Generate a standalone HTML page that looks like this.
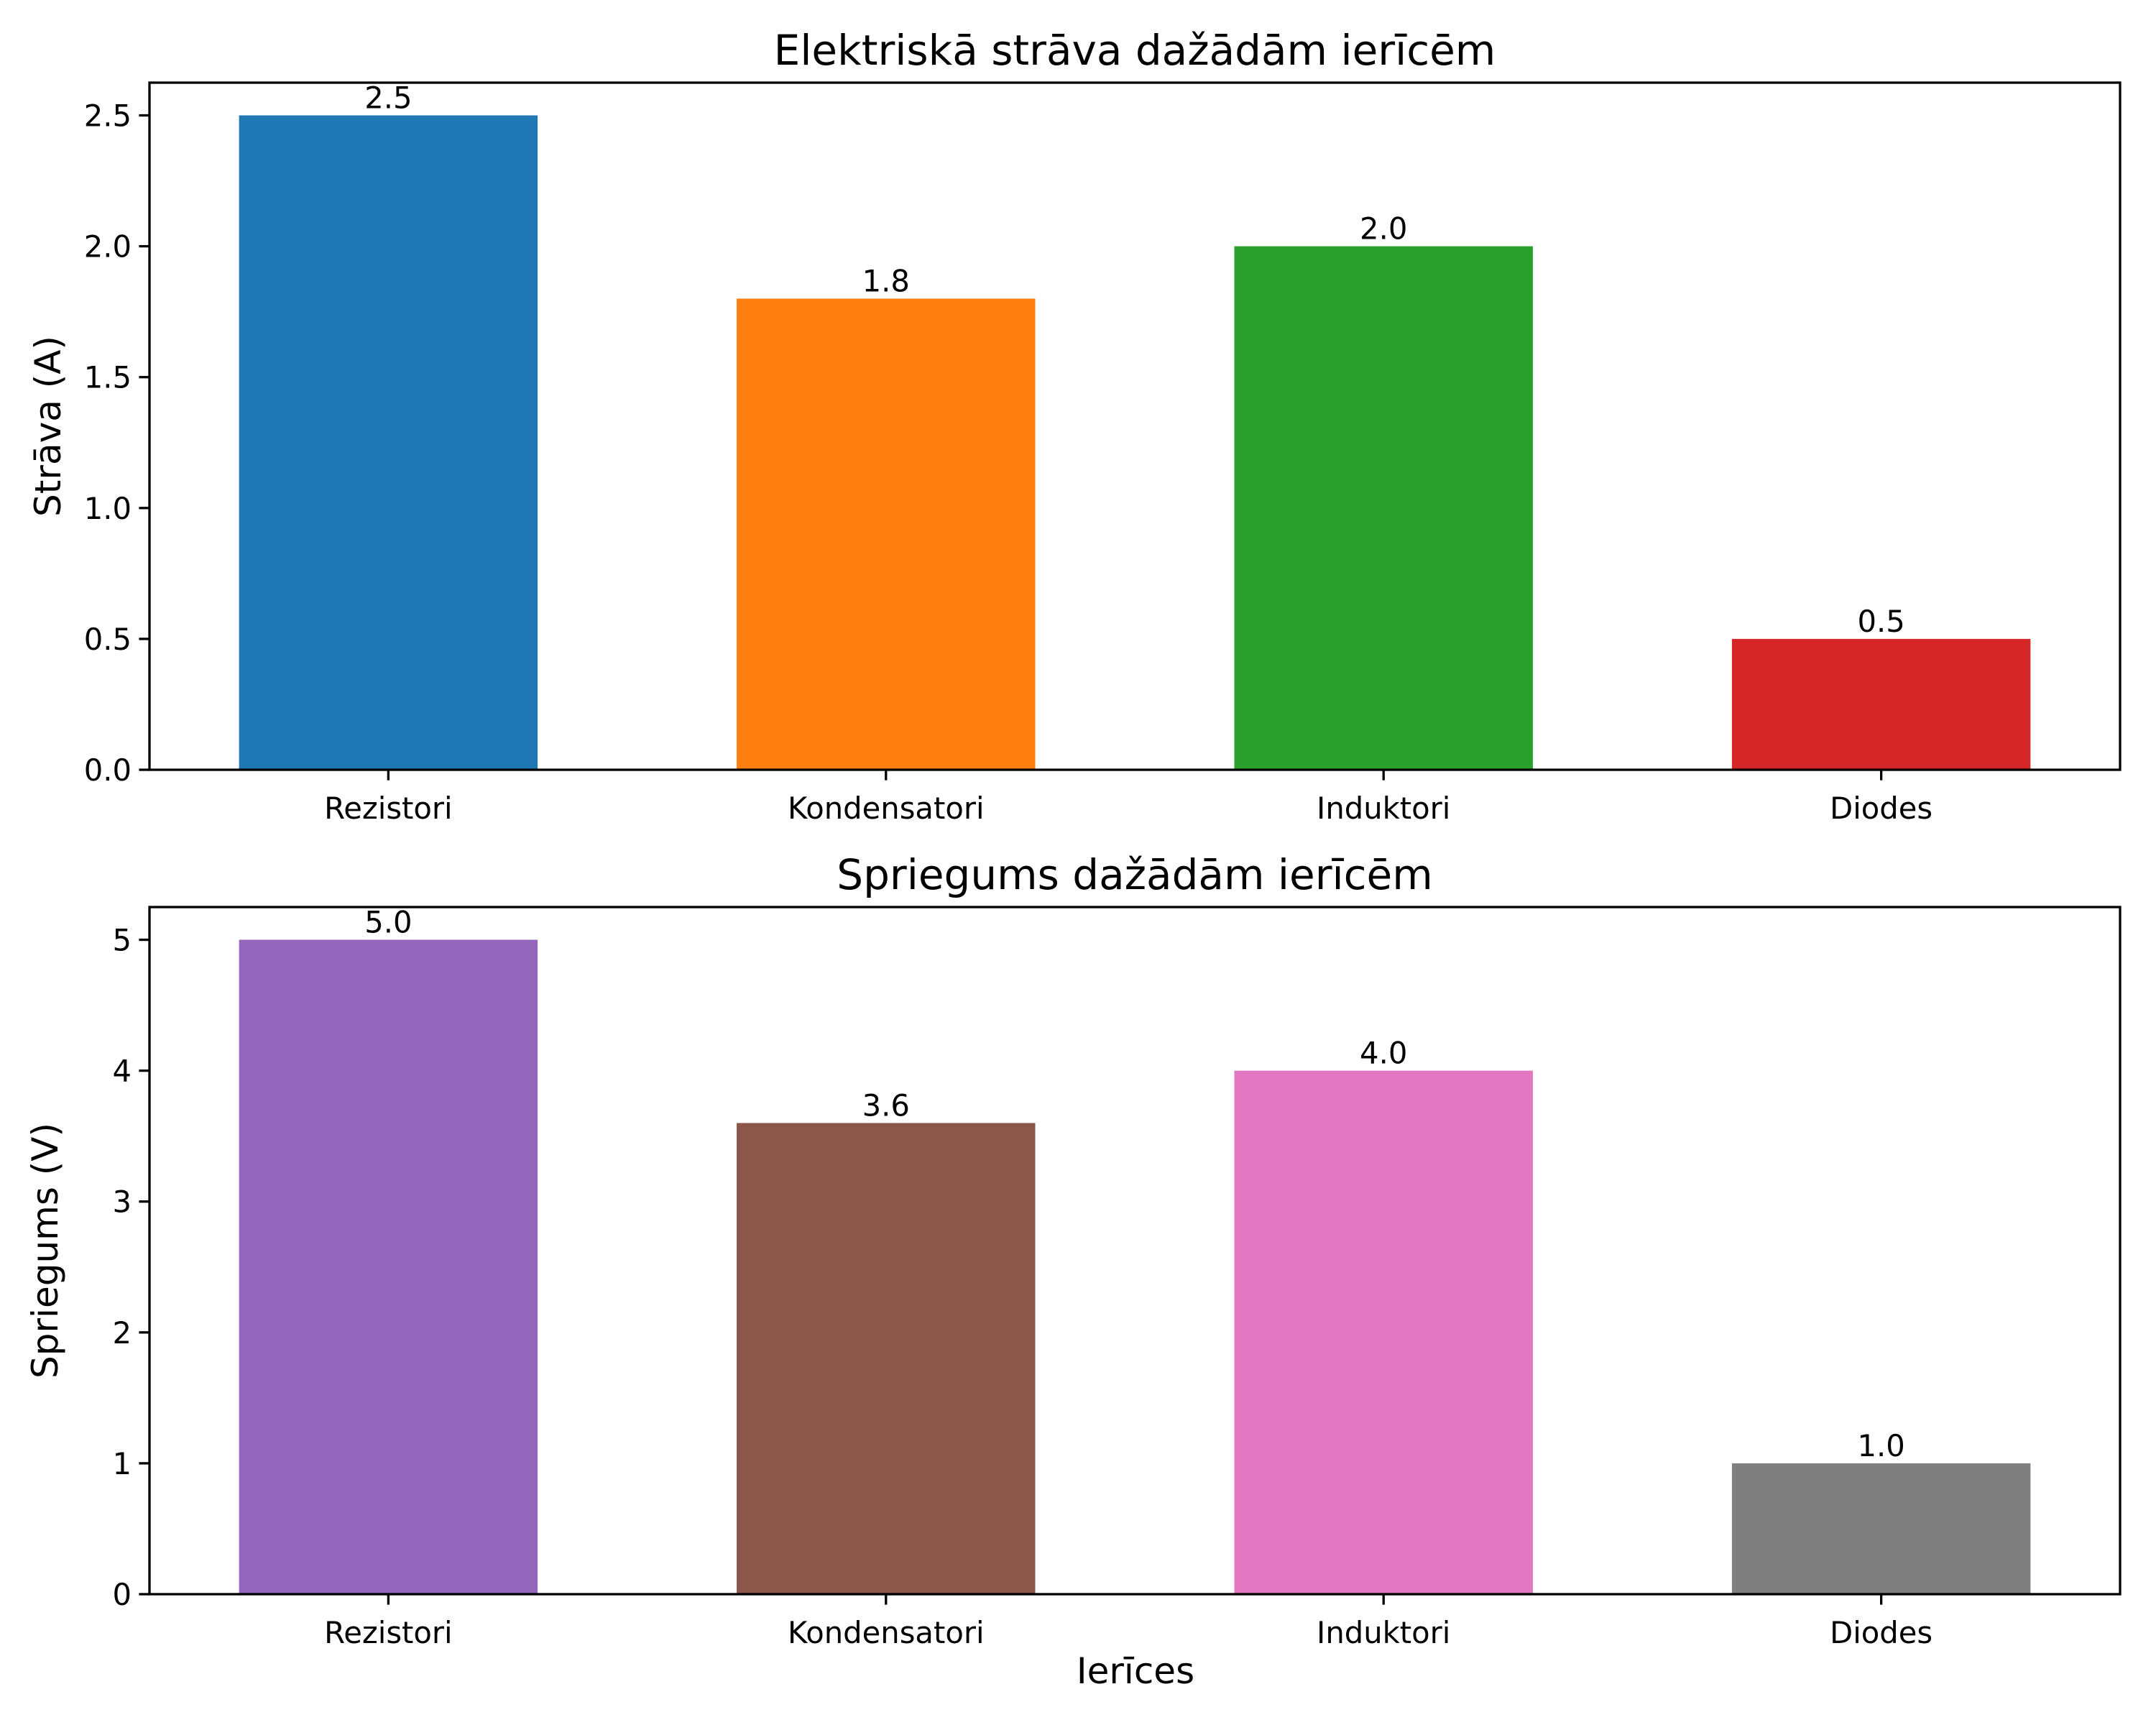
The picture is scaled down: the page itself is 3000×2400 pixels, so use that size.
<!DOCTYPE html>
<html><head><meta charset="utf-8"><style>
html,body{margin:0;padding:0;background:#fff;}
svg{display:block;font-family:"DejaVu Sans","Liberation Sans",sans-serif;}
</style></head><body>
<svg id="fig" width="3000" height="2400" viewBox="0 0 3000 2400" xmlns="http://www.w3.org/2000/svg"></svg>
<script>
const categories = ["Rezistori","Kondensatori","Induktori","Diodes"];
const currentValues = [2.5,1.8,2.0,0.5];
const voltageValues = [5.0,3.6,4.0,1.0];
const currentTicks = [0,0.5,1.0,1.5,2.0,2.5];
const currentTickLabels = ["0.0","0.5","1.0","1.5","2.0","2.5"];
const voltageTicks = [0,1,2,3,4,5];
const voltageTickLabels = ["0","1","2","3","4","5"];
const currentColors = ["#1f77b4","#ff7f0e","#2ca02c","#d62728"];
const voltageColors = ["#9467bd","#8c564b","#e377c2","#7f7f7f"];

const NS="http://www.w3.org/2000/svg";
const svg=document.getElementById('fig');
function el(tag,attrs,parent){const e=document.createElementNS(NS,tag);for(const k in attrs)e.setAttribute(k,attrs[k]);(parent||svg).appendChild(e);return e;}

function panel(cfg){
  const g=el('g',{});
  
  
  const L=208,R=2950,T=cfg.top,B=cfg.bottom;
  const xmin=-0.48,xmax=3.48,ymax=cfg.ymax;
  const xs=v=>L+(v-xmin)/(xmax-xmin)*(R-L);
  const ys=v=>B-(v/ymax)*(B-T);
  cfg.values.forEach((v,i)=>{
    const r=el('rect',{x:xs(i-0.3),y:ys(v),width:xs(i+0.3)-xs(i-0.3),height:B-ys(v),fill:cfg.colors[i]},g);
    
    
    const t=el('text',{x:xs(i),y:ys(v)-10,'font-size':41.7,'text-anchor':'middle',fill:'#000'},g);
    t.textContent=v.toFixed(1);
    
    
  });
  cfg.ticks.forEach((v,i)=>{
    el('line',{x1:L-14.6,x2:L,y1:ys(v),y2:ys(v),stroke:'#000','stroke-width':3.3},g);
    const t=el('text',{x:L-25,y:ys(v)+15,'font-size':41.7,'text-anchor':'end'},g);
    t.textContent=cfg.tickLabels[i];
    
    
  });
  categories.forEach((c,i)=>{
    el('line',{x1:xs(i),x2:xs(i),y1:B,y2:B+14.6,stroke:'#000','stroke-width':3.3},g);
    const t=el('text',{x:xs(i),y:B+68,'font-size':41.7,'text-anchor':'middle'},g);
    t.textContent=c;
    
    
  });
  const fr=el('rect',{x:L,y:T,width:R-L,height:B-T,fill:'none',stroke:'#000','stroke-width':3.3},g);
  
  
  const tt=el('text',{x:(L+R)/2,y:T-25,'font-size':58,'text-anchor':'middle'},g);
  tt.textContent=cfg.title;
  
  
  const yl=el('text',{x:cfg.ylx,y:(T+B)/2,'font-size':50,'text-anchor':'middle',transform:`rotate(-90 ${cfg.ylx} ${(T+B)/2})`},g);
  yl.textContent=cfg.ylabel;
  
  
}
panel({name:'current-chart',top:115,bottom:1071,ymax:2.625,values:currentValues,colors:currentColors,ticks:currentTicks,tickLabels:currentTickLabels,title:'Elektriskā strāva dažādām ierīcēm',ylabel:'Strāva (A)',ylx:84});
panel({name:'voltage-chart',top:1262,bottom:2218,ymax:5.25,values:voltageValues,colors:voltageColors,ticks:voltageTicks,tickLabels:voltageTickLabels,title:'Spriegums dažādām ierīcēm',ylabel:'Spriegums (V)',ylx:80});
const xl=el('text',{x:1580,y:2342,'font-size':50,'text-anchor':'middle'});
xl.textContent='Ierīces';


</script>
</body></html>
